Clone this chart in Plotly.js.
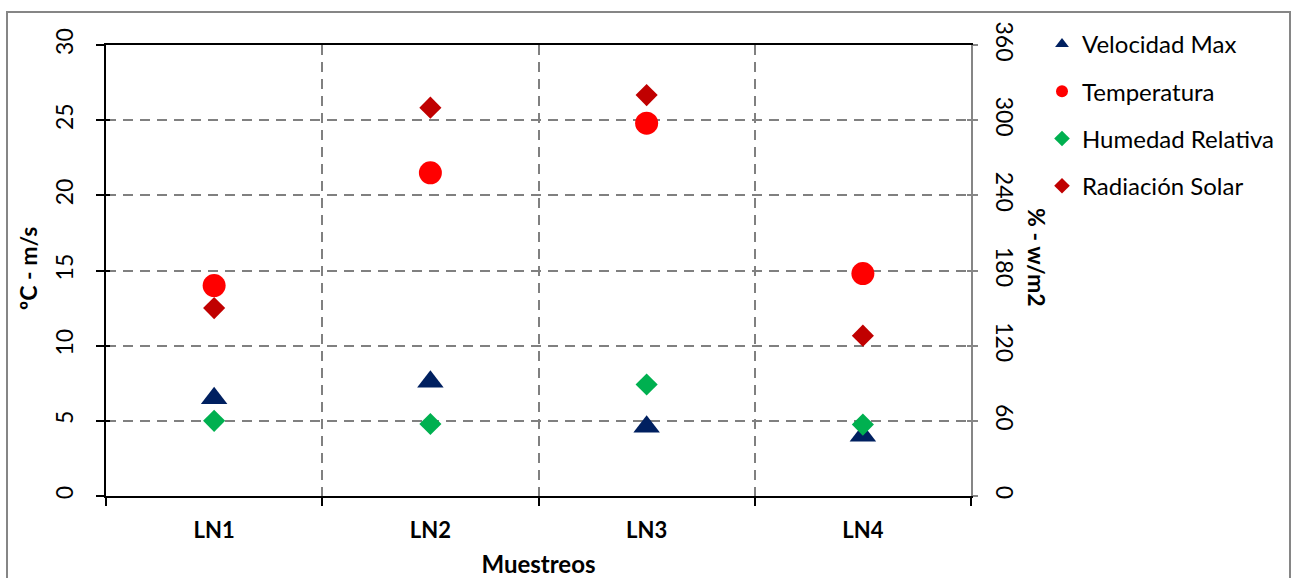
<!DOCTYPE html>
<html>
<head>
<meta charset="utf-8">
<script src="https://cdn.plot.ly/plotly-3.0.1.min.js"></script>
<style>
  html, body { margin: 0; padding: 0; background: #ffffff; }
  #chart { width: 1292px; height: 578px; }
</style>
</head>
<body>
<div id="chart"></div>
<script>
// Sampling points and measured values
const muestreos = ['LN1', 'LN2', 'LN3', 'LN4'];
const velocidadMax = [6.5, 7.6, 4.6, 4.0];        // m/s  (left axis)
const temperatura = [14.0, 21.5, 24.8, 14.8];     // ºC   (left axis)
const humedadRelativa = [60, 57.5, 89, 57];       // %    (right axis)
const radiacionSolar = [150, 310, 320, 128];      // w/m2 (right axis)

const leftTicks = [0, 5, 10, 15, 20, 25, 30];
const rightTicks = [0, 60, 120, 180, 240, 300, 360];

const FONT = 'Lato, "Open Sans", sans-serif';
const GRID = '#808080';
const FRAME = '#868686';

const traces = [
  {
    name: 'Velocidad Max', x: muestreos, y: velocidadMax, yaxis: 'y',
    type: 'scatter', mode: 'markers', legendgroup: 'a',
    marker: { symbol: 'triangle-up', size: 23, color: '#002060' }
  },
  {
    name: 'Temperatura', x: muestreos, y: temperatura, yaxis: 'y',
    type: 'scatter', mode: 'markers', legendgroup: 'b',
    marker: { symbol: 'circle', size: 23, color: '#ff0000' }
  },
  {
    name: 'Humedad Relativa', x: muestreos, y: humedadRelativa, yaxis: 'y2',
    type: 'scatter', mode: 'markers', legendgroup: 'c',
    marker: { symbol: 'diamond', size: 17, color: '#00b050' }
  },
  {
    name: 'Radiación Solar', x: muestreos, y: radiacionSolar, yaxis: 'y2',
    type: 'scatter', mode: 'markers', legendgroup: 'd',
    marker: { symbol: 'diamond', size: 17, color: '#c00000' }
  }
];

// plot area in pixels: x 106..971, y 45..496
const L = 106, R = 971, T = 45, B = 496;
const px = v => (v - L) / (R - L);
const py = v => (B - v) / (B - T);

const layout = {
  width: 1292, height: 578,
  margin: { l: L, r: 1292 - R, t: T, b: 578 - B, pad: 0 },
  paper_bgcolor: '#ffffff', plot_bgcolor: '#ffffff',
  font: { family: FONT, size: 22, color: '#000000' },
  showlegend: true,
  legend: {
    x: px(1042), xanchor: 'left', y: py(22), yanchor: 'top',
    font: { family: FONT, size: 24, color: '#000000' },
    itemsizing: 'constant', traceorder: 'grouped', tracegroupgap: 13,
    bgcolor: 'rgba(0,0,0,0)'
  },
  xaxis: {
    type: 'category', range: [-0.5, 3.5], tickson: 'boundaries',
    showgrid: true, gridcolor: GRID, gridwidth: 2, griddash: '10px,7px',
    showline: true, linecolor: '#000000', linewidth: 2, mirror: true,
    ticks: 'outside', ticklen: 8, tickwidth: 2, tickcolor: '#000000',
    ticklabelstandoff: 14,
    tickfont: { family: FONT, size: 22, color: '#000000', weight: 'bold' },
    zeroline: false, fixedrange: true,
    title: { text: '<b>Muestreos</b>', standoff: 16, font: { family: FONT, size: 24, color: '#000000' } }
  },
  yaxis: {
    range: [0, 30], tickvals: leftTicks, ticktext: leftTicks.map(String),
    showgrid: true, gridcolor: GRID, gridwidth: 2, griddash: '10px,7px',
    showline: true, linecolor: '#000000', linewidth: 2,
    ticks: 'outside', ticklen: 8, tickwidth: 2, tickcolor: '#000000',
    tickangle: -90, ticklabelstandoff: 14,
    tickfont: { family: FONT, size: 23, color: '#000000' },
    zeroline: false, fixedrange: true
  },
  yaxis2: {
    overlaying: 'y', side: 'right', range: [0, 360],
    tickvals: rightTicks, ticktext: rightTicks.map(String),
    showgrid: false, showline: true, linecolor: FRAME, linewidth: 2,
    ticks: 'outside', ticklen: 5, tickwidth: 2, tickcolor: FRAME,
    tickangle: 90, ticklabelstandoff: 9,
    tickfont: { family: FONT, size: 23, color: '#000000' },
    zeroline: false, fixedrange: true
  },
  // inner halves of the crossing tick marks
  yaxis3: {
    overlaying: 'y', side: 'left', range: [0, 30], tickvals: leftTicks,
    showticklabels: false, showgrid: false, showline: false, zeroline: false,
    ticks: 'inside', ticklen: 4, tickwidth: 2, tickcolor: '#000000', fixedrange: true
  },
  yaxis4: {
    overlaying: 'y', side: 'right', range: [0, 360], tickvals: rightTicks,
    showticklabels: false, showgrid: false, showline: false, zeroline: false,
    ticks: 'inside', ticklen: 4, tickwidth: 2, tickcolor: FRAME, fixedrange: true
  },
  annotations: [
    {
      text: '<b>ºC - m/s</b>', textangle: -90, showarrow: false,
      xref: 'paper', yref: 'paper', x: px(28), y: py(269),
      xanchor: 'center', yanchor: 'middle',
      font: { family: FONT, size: 23, color: '#000000' }
    },
    {
      text: '<b>% - w/m2</b>', textangle: 90, showarrow: false,
      xref: 'paper', yref: 'paper', x: px(1037), y: py(257),
      xanchor: 'center', yanchor: 'middle',
      font: { family: FONT, size: 23, color: '#000000' }
    }
  ],
  shapes: [
    {
      type: 'rect', xref: 'paper', yref: 'paper', layer: 'below',
      x0: px(7), x1: px(1290), y0: py(600), y1: py(12),
      line: { color: FRAME, width: 2 }, fillcolor: 'rgba(0,0,0,0)'
    }
  ]
};

// helper traces that attach the inner tick axes
traces.push(
  { x: [muestreos[0]], y: [null], yaxis: 'y3', type: 'scatter', mode: 'markers', showlegend: false, hoverinfo: 'skip' },
  { x: [muestreos[0]], y: [null], yaxis: 'y4', type: 'scatter', mode: 'markers', showlegend: false, hoverinfo: 'skip' }
);

Plotly.newPlot('chart', traces, layout, { displayModeBar: false, staticPlot: true });
</script>
</body>
</html>
